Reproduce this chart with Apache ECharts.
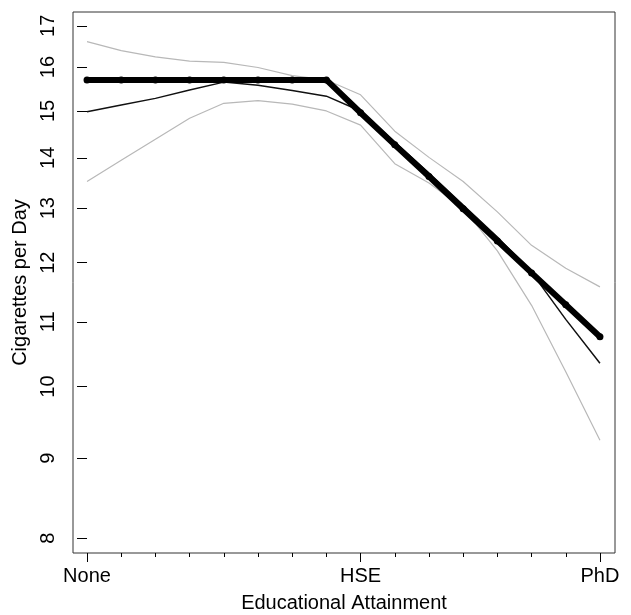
<!DOCTYPE html>
<html>
<head>
<meta charset="utf-8">
<script src="https://cdn.jsdelivr.net/npm/echarts@6/dist/echarts.min.js"></script>
<style>
html,body{margin:0;padding:0;background:#fff;}
#chart{width:631px;height:615px;}
</style>
</head>
<body>
<div id="chart"></div>
<script>
// Education levels (0 = None, 8 = HSE, 15 = PhD)
var educationLevels = [0,1,2,3,4,5,6,7,8,9,10,11,12,13,14,15];
var majorLevels = [0, 8, 15];
var majorLabels = ['None', 'HSE', 'PhD'];
var yTickValues = [8,9,10,11,12,13,14,15,16,17];

// Fitted (thick) curve
var fitted = [15.70,15.70,15.70,15.70,15.70,15.70,15.70,15.70,14.96,14.27,13.62,12.99,12.39,11.82,11.28,10.76];
// Nonparametric estimate (thin black)
var estimate = [14.98,15.13,15.28,15.47,15.65,15.58,15.46,15.33,15.00,14.33,13.69,13.06,12.46,11.83,11.04,10.35];
// Upper and lower bands (gray)
var upperBand = [16.61,16.39,16.24,16.14,16.11,15.99,15.80,15.70,15.36,14.56,14.01,13.52,12.93,12.31,11.90,11.58];
var lowerBand = [13.52,13.95,14.39,14.84,15.17,15.23,15.15,15.00,14.69,13.88,13.49,13.00,12.21,11.27,10.22,9.24];

var FONT = 'Liberation Sans, Arial, Helvetica, sans-serif';
function pairs(arr){ return educationLevels.map(function(x,i){ return [x, Math.log(arr[i])]; }); }

var xMin = -0.41, xMax = 15.44;
var yMin = Math.log(7.829), yMax = Math.log(17.35);

var chart = echarts.init(document.getElementById('chart'));
chart.setOption({
  animation: false,
  backgroundColor: '#fff',
  grid: {left: 73, right: 16, top: 12, bottom: 62, show: true, borderColor: '#333', borderWidth: 1,
    backgroundColor: 'transparent', containLabel: false, outerBoundsMode: 'none'},
  xAxis: [{
    type: 'value', min: xMin, max: xMax, position: 'bottom',
    axisLine: {show: false},
    splitLine: {show: false},
    axisTick: {show: true, customValues: educationLevels, length: 4, lineStyle: {color: '#000', width: 1}},
    axisLabel: {show: false}
  }, {
    type: 'value', min: xMin, max: xMax, position: 'bottom',
    axisLine: {show: false},
    splitLine: {show: false},
    axisTick: {show: true, customValues: majorLevels, length: 9, lineStyle: {color: '#000', width: 1}},
    axisLabel: {show: true, customValues: majorLevels, margin: 13, fontSize: 20, color: '#000', fontFamily: FONT,
      formatter: function(v){ var k = majorLevels.indexOf(Math.round(v)); return k >= 0 ? majorLabels[k] : ''; }},
    name: 'Educational Attainment', nameLocation: 'middle', nameGap: 40,
    nameTextStyle: {fontSize: 20, color: '#000', fontFamily: FONT}
  }],
  yAxis: {
    type: 'value', min: yMin, max: yMax,
    axisLine: {show: false},
    splitLine: {show: false},
    axisTick: {show: true, customValues: yTickValues.map(Math.log), length: 10, lineStyle: {color: '#000', width: 1}},
    axisLabel: {show: true, customValues: yTickValues.map(Math.log), rotate: 90, margin: 15, fontSize: 20, color: '#000', fontFamily: FONT,
      formatter: function(v){ return String(Math.round(Math.exp(v))); }},
    name: 'Cigarettes per Day', nameLocation: 'middle', nameGap: 36, nameRotate: 90,
    nameTextStyle: {fontSize: 20, color: '#000', fontFamily: FONT}
  },
  series: [
    {type: 'line', data: pairs(upperBand), showSymbol: false, symbol: 'none', lineStyle: {color: '#b8b8b8', width: 1.2}, z: 2},
    {type: 'line', data: pairs(lowerBand), showSymbol: false, symbol: 'none', lineStyle: {color: '#b8b8b8', width: 1.2}, z: 2},
    {type: 'line', data: pairs(estimate), showSymbol: false, symbol: 'none', lineStyle: {color: '#111', width: 1.5}, z: 3},
    {type: 'line', data: pairs(fitted), symbol: 'circle', symbolSize: 7, itemStyle: {color: '#000'},
      lineStyle: {color: '#000', width: 6, cap: 'round', join: 'round'}, z: 4}
  ]
});
</script>
</body>
</html>
